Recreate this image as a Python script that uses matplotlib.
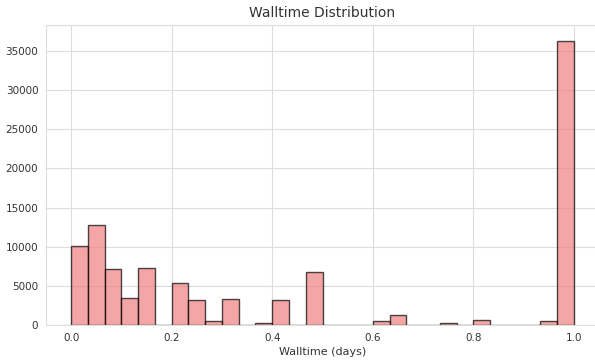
import matplotlib
matplotlib.use("Agg")
import matplotlib.pyplot as plt
import numpy as np
import seaborn as sns

# 30 equal-width walltime bins between 0 and 1 day
bin_edges = np.linspace(0.0, 1.0, 31)
counts = [10100, 12800, 7100, 3450, 7250, 0,
          5300, 3150, 470, 3300, 0, 300,
          3200, 0, 6750, 0, 60, 0,
          550, 1250, 0, 0, 300, 0,
          600, 0, 0, 0, 550, 36300]

sns.set_style("whitegrid")
plt.rcParams['font.family'] = ['DejaVu Sans']

fig = plt.figure(figsize=(5.95, 3.6), dpi=100)
ax = fig.add_axes([46 / 595, 35 / 360, 553 / 595, 300 / 360])

ax.hist(bin_edges[:-1], bins=bin_edges, weights=counts,
        color='lightcoral', edgecolor='black', alpha=0.7, linewidth=1.0)

ax.set_xlim(-0.05, 1.05)
ax.set_ylim(0, 38300)
ax.set_xticks([0.0, 0.2, 0.4, 0.6, 0.8, 1.0])
ax.set_yticks(range(0, 35001, 5000))
ax.tick_params(labelsize=7.5, colors='#333333', pad=2)
ax.set_title('Walltime Distribution', fontsize=10, color='#333333', pad=6)
ax.set_xlabel('Walltime (days)', fontsize=8, color='#333333', labelpad=3)
ax.grid(color='#dddddd', linewidth=0.8)
for s in ax.spines.values():
    s.set_color('#dddddd')

fig.savefig('out.png', dpi=100)
